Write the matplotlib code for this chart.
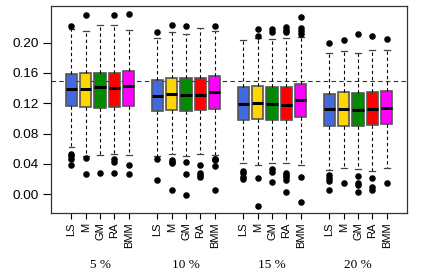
import numpy as np
import matplotlib
matplotlib.use('Agg')
import matplotlib.pyplot as plt

metodos = ['LS', 'M', 'GM', 'RA', 'BMM']
grupos = ['5 %', '10 %', '15 %', '20 %']
colores = ['#4169E1', '#FFD700', '#008B00', '#FF0000', '#FF00FF']

# estadisticos (filas = grupo, columnas = metodo)
q1 = [[0.1166, 0.1155, 0.1143, 0.1156, 0.1168],
      [0.1100, 0.1110, 0.1100, 0.1110, 0.1126],
      [0.0980, 0.0998, 0.0985, 0.0980, 0.1020],
      [0.0898, 0.0906, 0.0900, 0.0915, 0.0932]]
med = [[0.1390, 0.1390, 0.1412, 0.1400, 0.1423],
       [0.1300, 0.1320, 0.1315, 0.1315, 0.1354],
       [0.1190, 0.1200, 0.1196, 0.1180, 0.1240],
       [0.1122, 0.1126, 0.1117, 0.1122, 0.1143]]
q3 = [[0.1588, 0.1605, 0.1597, 0.1600, 0.1628],
      [0.1505, 0.1530, 0.1530, 0.1540, 0.1557],
      [0.1410, 0.1430, 0.1416, 0.1420, 0.1460],
      [0.1320, 0.1346, 0.1337, 0.1346, 0.1364]]
whis_lo = [[0.0620, 0.0500, 0.0510, 0.0528, 0.0510],
           [0.0500, 0.0523, 0.0497, 0.0523, 0.0510],
           [0.0417, 0.0390, 0.0413, 0.0413, 0.0383],
           [0.0312, 0.0338, 0.0325, 0.0304, 0.0343]]
whis_hi = [[0.2180, 0.2156, 0.2230, 0.2235, 0.2170],
           [0.2060, 0.2140, 0.2116, 0.2195, 0.2150],
           [0.2040, 0.2060, 0.2046, 0.2060, 0.2076],
           [0.1870, 0.1888, 0.1860, 0.1905, 0.1905]]
atipicos = [[[0.2226, 0.053, 0.0497, 0.047, 0.038],
             [0.237, 0.048, 0.027],
             [0.0277],
             [0.237, 0.046, 0.043, 0.0277],
             [0.238, 0.0387, 0.027]],
            [[0.2146, 0.047, 0.018],
             [0.2235, 0.0453, 0.0426, 0.041, 0.0048],
             [0.222, 0.042, 0.0264, -0.001],
             [0.0378, 0.0277, 0.025, 0.022],
             [0.2226, 0.047, 0.046, 0.0444, 0.0374, 0.0048]],
            [[0.0308, 0.0272, 0.0232, 0.0193],
             [0.2178, 0.2086, 0.0211, -0.0155],
             [0.2185, 0.2145, 0.033, 0.0294, 0.0153],
             [0.2204, 0.2173, 0.2138, 0.028, 0.025, 0.022, 0.0189, 0.0021],
             [0.2336, 0.219, 0.2156, 0.212, 0.0224, -0.0102]],
            [[0.200, 0.025, 0.0211, 0.0172, 0.0057],
             [0.2036, 0.014],
             [0.211, 0.0242, 0.0145, 0.0114, 0.0021],
             [0.209, 0.0206, 0.0087, 0.0057],
             [0.205, 0.014]]]
referencia = 0.15

fig = plt.figure(figsize=(4.22, 2.73), dpi=100)
ax = fig.add_axes([0.1209, 0.2198, 0.8436, 0.7582])

stats = []
pos = []
cols = []
for g in range(len(grupos)):
    for m in range(len(metodos)):
        stats.append({'med': med[g][m], 'q1': q1[g][m], 'q3': q3[g][m],
                      'whislo': whis_lo[g][m], 'whishi': whis_hi[g][m],
                      'fliers': atipicos[g][m]})
        pos.append(g * (len(metodos) + 1) + m + 1)
        cols.append(colores[m])

bp = ax.bxp(stats, positions=pos, widths=0.8, patch_artist=True,
            capwidths=0.4,
            boxprops=dict(edgecolor='#555555', linewidth=1.2),
            medianprops=dict(color='black', linewidth=2.2),
            whiskerprops=dict(color='black', linewidth=0.8, linestyle=(0, (3, 2.5))),
            capprops=dict(color='#444444', linewidth=0.9),
            flierprops=dict(marker='o', markerfacecolor='black', markeredgecolor='black',
                            markersize=3.7, linestyle='none'))
for caja, c in zip(bp['boxes'], cols):
    caja.set_facecolor(c)

ax.axhline(referencia, color='#333333', linewidth=0.8, linestyle=(0, (4, 3)), zorder=0.5)

ax.set_xlim(-0.42, 24.42)
ax.set_ylim(-0.025, 0.2485)
ax.set_yticks(np.arange(0, 0.21, 0.04))
ax.set_yticklabels(['%.2f' % v for v in np.arange(0, 0.21, 0.04)],
                   fontsize=9.7, family='Liberation Sans')
ax.set_xticks(pos)
ax.set_xticklabels(metodos * len(grupos), rotation=90, fontsize=8,
                   family='Liberation Sans')
ax.tick_params(axis='y', length=5.5, width=0.8, pad=3)
ax.tick_params(axis='x', length=4, width=0.8, pad=3)
for s in ax.spines.values():
    s.set_color('#333333')
    s.set_linewidth(0.9)

# etiquetas de cada grupo
for g, nombre in enumerate(grupos):
    xc = g * (len(metodos) + 1) + 3
    ax.text(xc, -0.251, nombre, transform=ax.get_xaxis_transform(),
            ha='center', va='center', fontsize=9.5, family='Liberation Serif')

plt.savefig('out.png', dpi=100)
